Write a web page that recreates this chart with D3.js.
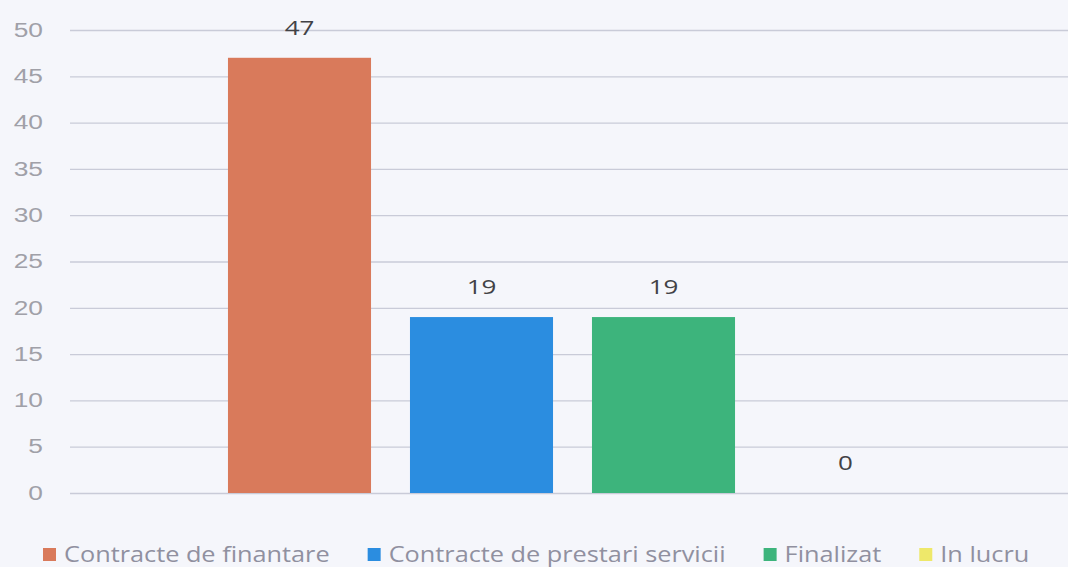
<!DOCTYPE html>
<html>
<head>
<meta charset="utf-8">
<script src="https://cdn.jsdelivr.net/npm/d3@7"></script>
<style>
  body { margin: 0; background: #f5f6fb; }
  svg { display: block; font-family: "Open Sans", sans-serif; }
</style>
</head>
<body>
<div class="chart"></div>
<script>
// series of the one category
var SERIES = ["Contracte de finantare", "Contracte de prestari servicii", "Finalizat", "In lucru"];
var VALUES = [47, 19, 19, 0];
var COLORS = ["#d97a5b", "#2b8de0", "#3db47c", "#eee86a"];
var Y_TICKS = [0, 5, 10, 15, 20, 25, 30, 35, 40, 45, 50];

var W = 1068, H = 567;
var margin = {top: 30, right: 0, bottom: 74, left: 70};
var STRETCH = 1.35; // the source picture is wider than tall, text looks stretched

var svg = d3.select(".chart").append("svg")
    .attr("width", W)
    .attr("height", H);

svg.append("rect").attr("width", W).attr("height", H).attr("fill", "#f5f6fb");

var y = d3.scaleLinear().domain([0, 50]).range([H - margin.bottom, margin.top]);

// bars sit in the middle of the plot, one band per series
var x = d3.scaleBand()
    .domain(SERIES)
    .range([208.5, 936.5])
    .paddingInner(0.214)
    .paddingOuter(0.107);

var color = d3.scaleOrdinal().domain(SERIES).range(COLORS);

// gridlines + labels
var yAxis = d3.axisLeft(y)
    .tickValues(Y_TICKS)
    .tickSize(-(W - margin.left));

var gy = svg.append("g")
    .attr("transform", "translate(" + margin.left + ",0)")
    .call(yAxis);
gy.select(".domain").remove();
gy.selectAll(".tick line").attr("stroke", "#c9cbd8").attr("stroke-width", 1.3);
gy.selectAll(".tick text")
    .attr("x", -27 / STRETCH)
    .attr("transform", "scale(" + STRETCH + ",1)")
    .attr("fill", "#a0a0a8")
    .style("font-size", "19.5px");

var data = SERIES.map(function (s, i) { return {name: s, value: VALUES[i]}; });

svg.selectAll(".bar")
    .data(data)
    .enter().append("rect")
    .attr("class", "bar")
    .attr("x", function (d) { return x(d.name); })
    .attr("width", x.bandwidth())
    .attr("y", function (d) { return y(d.value); })
    .attr("height", function (d) { return y(0) - y(d.value); })
    .attr("fill", function (d) { return color(d.name); });

svg.selectAll(".val")
    .data(data)
    .enter().append("text")
    .attr("class", "val")
    .attr("transform", function (d) {
        return "translate(" + (x(d.name) + x.bandwidth() / 2) + "," + (y(d.value) - 23) + ") scale(1.3,1)";
    })
    .attr("text-anchor", "middle")
    .attr("fill", "#424246")
    .style("font-size", "20px")
    .text(function (d) { return d.value; });

// legend
var legend = svg.append("g").attr("transform", "translate(43," + (H - 5) + ")");
var lx = 0;
data.forEach(function (d) {
    var g = legend.append("g").attr("transform", "translate(" + lx + ",0)");
    g.append("rect")
        .attr("x", 0).attr("y", -14)
        .attr("width", 13).attr("height", 13)
        .attr("fill", color(d.name));
    var t = g.append("text")
        .attr("transform", "translate(21,0) scale(1.15,1)")
        .attr("fill", "#9090a0")
        .style("font-size", "22px")
        .text(d.name);
    lx += 21 + t.node().getComputedTextLength() * 1.15 + 38;
});
</script>
</body>
</html>
